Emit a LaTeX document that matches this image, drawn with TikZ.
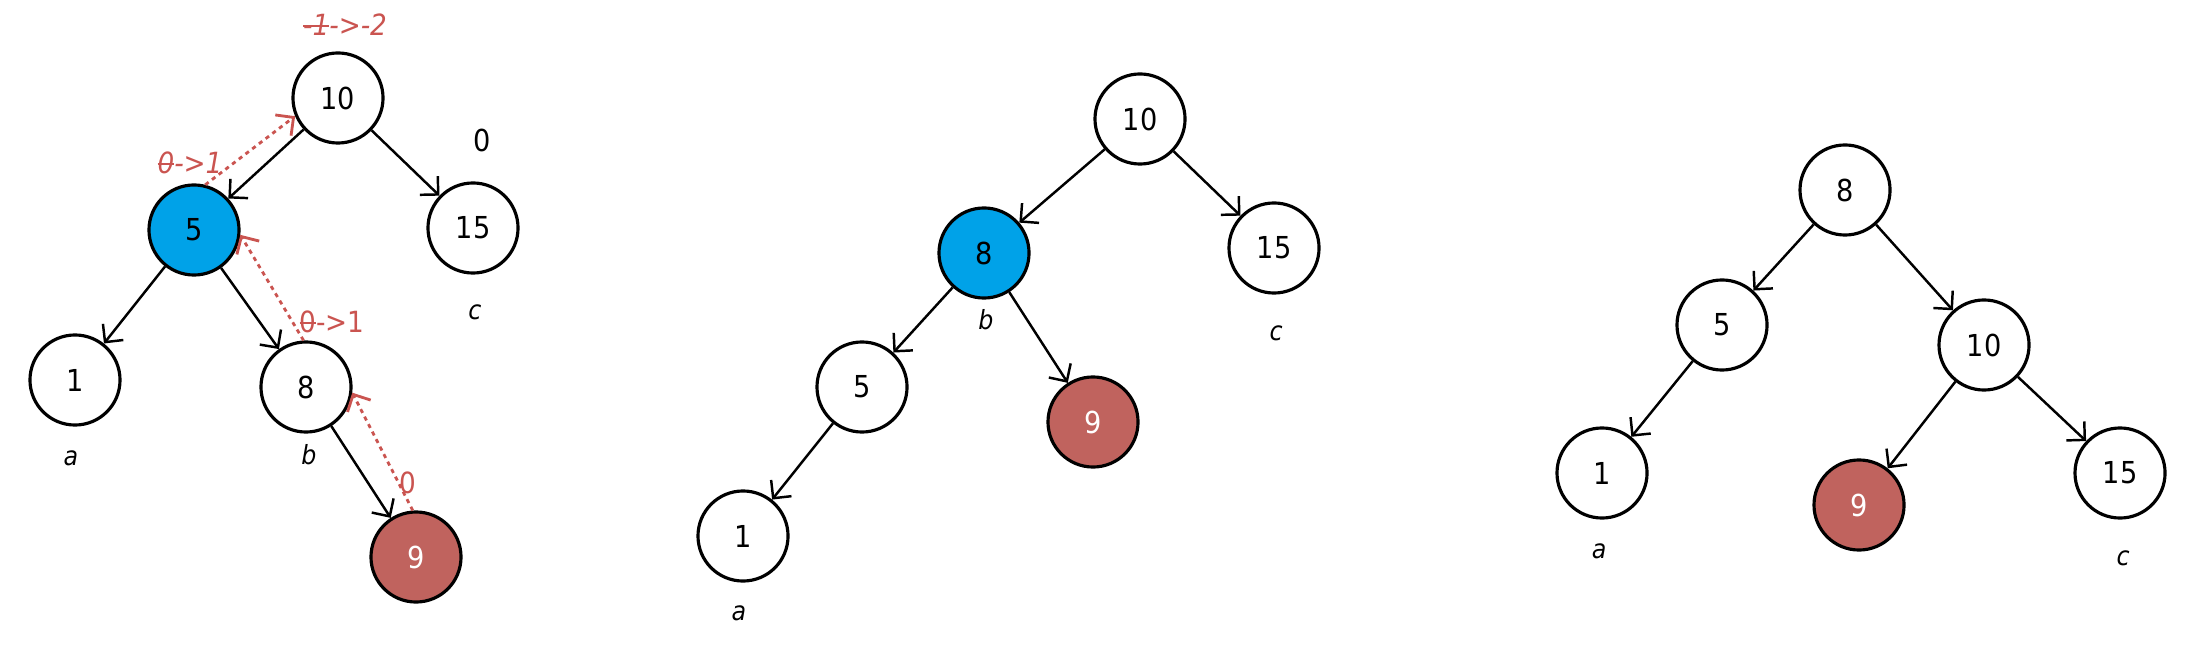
\documentclass[tikz,border=0pt]{standalone}
\usepackage{fontspec}
\setmainfont{DejaVu Sans Condensed}
\usetikzlibrary{arrows.meta}
\definecolor{TreeBlue}{RGB}{0,162,232}
\definecolor{TreeRed}{RGB}{192,99,94}
\definecolor{NoteRed}{RGB}{202,84,80}
\newcommand{\struck}[1]{\setbox0\hbox{#1}\rlap{\rule[0.3em]{\wd0}{0.5pt}}\box0}

\begin{document}
\begin{tikzpicture}[
  x=0.01cm,y=-0.01cm,
  vertex/.style={circle,draw,line width=0.9pt,minimum size=9mm,inner sep=0pt,
                 font=\fontsize{8.6}{10}\selectfont},
  hot/.style={vertex,fill=TreeBlue},
  cut/.style={vertex,fill=TreeRed,text=white},
  tag/.style={font=\itshape\fontsize{7.5}{9}\selectfont},
  note/.style={text=NoteRed,font=\fontsize{8.3}{10}\selectfont},
  slanted/.style={note,font=\itshape\fontsize{8.3}{10}\selectfont},
  arrow/.style={-{Straight Barb[length=1.3mm,width=2.6mm]},line width=0.7pt},
  back/.style={arrow,draw=NoteRed,dash pattern=on 1.2pt off 1.2pt,line width=0.8pt}
]
\useasboundingbox (0,0) rectangle (2192,658);
% left tree: before the rotation
\node[vertex] (l10) at (338,98) {10};
\node[hot] (l5) at (194,230) {5};
\node[vertex] (l15) at (473,228) {15};
\node[vertex] (l1) at (75,380) {1};
\node[vertex] (l8) at (306,387) {8};
\node[cut] (l9) at (416,557) {9};
\node[tag] (la) at (71,458) {a};
\node[tag] (lb) at (309,455) {b};
\node[tag] (lc) at (475,312) {c};
\draw[arrow] (l10)--(l5); \draw[arrow] (l10)--(l15);
\draw[arrow] (l5)--(l1); \draw[arrow] (l5)--(l8); \draw[arrow] (l8)--(l9);
\draw[back] (l9.94)--(l8.-7); \draw[back] (l8.93)--(l5.-6); \draw[back] (l5.76)--(l10.203);
\node[slanted] (lbf10) at (345,25) {\struck{-1}->-2};
\node[slanted] (lbf5) at (190,163) {\struck{0}->1};
\node[note] (lbf8) at (332,322) {\struck{0}->1};
\node[note] (lbf9) at (408,483) {0};
\node[font=\fontsize{8.6}{10}\selectfont] (lbf15) at (482,140) {0};
% middle tree: after the left rotation at 5
\node[vertex] (m10) at (1140,119) {10};
\node[hot] (m8) at (984,253) {8};
\node[vertex] (m15) at (1274,248) {15};
\node[vertex] (m5) at (862,387) {5};
\node[cut] (m9) at (1093,422) {9};
\node[vertex] (m1) at (743,536) {1};
\node[tag] (ma) at (739,613) {a};
\node[tag] (mb) at (986,320) {b};
\node[tag] (mc) at (1276,333) {c};
\draw[arrow] (m10)--(m8); \draw[arrow] (m10)--(m15);
\draw[arrow] (m8)--(m5); \draw[arrow] (m8)--(m9); \draw[arrow] (m5)--(m1);
% right tree: after the right rotation at 10
\node[vertex] (r8) at (1845,190) {8};
\node[vertex] (r5) at (1722,325) {5};
\node[vertex] (r10) at (1984,345) {10};
\node[vertex] (r1) at (1602,473) {1};
\node[cut] (r9) at (1859,505) {9};
\node[vertex] (r15) at (2120,473) {15};
\node[tag] (ra) at (1599,551) {a};
\node[tag] (rc) at (2123,558) {c};
\draw[arrow] (r8)--(r5); \draw[arrow] (r8)--(r10); \draw[arrow] (r5)--(r1);
\draw[arrow] (r10)--(r9); \draw[arrow] (r10)--(r15);
\end{tikzpicture}
\end{document}
